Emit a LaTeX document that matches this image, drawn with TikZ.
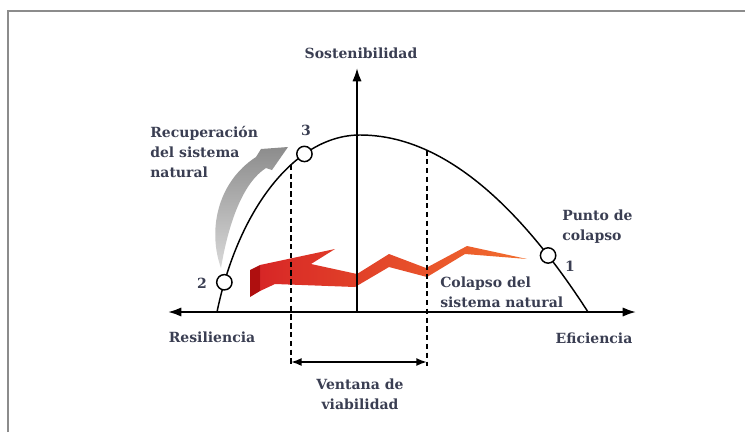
\documentclass[tikz,border=0pt]{standalone}
\usepackage{fontspec}
\setmainfont{DejaVu Serif}
\usetikzlibrary{arrows.meta}
\definecolor{txt}{RGB}{58,62,82}
\definecolor{framec}{RGB}{140,140,140}
\definecolor{redA}{RGB}{212,22,22}
\definecolor{redB}{RGB}{242,100,30}
\definecolor{redF}{RGB}{175,15,15}
\tikzset{atip/.tip={Latex[length=10pt,width=7pt]}, stip/.tip={Latex[length=8pt,width=6pt]}}
\begin{document}
\begin{tikzpicture}[x=0.75pt,y=-0.75pt,
  lbl/.style={text=txt, font=\fontsize{10.5}{15}\selectfont\bfseries, inner sep=0pt},
  axisln/.style={line width=1.5pt},
  curveln/.style={line width=1.1pt},
  pt/.style={circle, draw, line width=1.1pt, fill=white, minimum size=11.5pt, inner sep=0pt},
  dashln/.style={line width=1.5pt, dash pattern=on 4pt off 2.6pt}]
\useasboundingbox (0,0) rectangle (745,432);
\draw[framec, line width=1.9pt] (8,432) -- (8,11) -- (745,11);

% coordinates
\coordinate (O) at (357,312);
\coordinate (hl) at (168,312);
\coordinate (hr) at (636,312);
\coordinate (vt) at (357,68);
\coordinate (x0) at (217,312);
\coordinate (top) at (360,135);
\coordinate (x1) at (588,312);

% red ribbon
\shade[left color=redA, right color=redB, fill opacity=0.93]
  (260,265) -- (335,249) -- (311,264) -- (357,274) -- (389,254) -- (426,268)
  -- (467,246) -- (527,259) -- (465,254) -- (427,277) -- (389,267)
  -- (355,287) -- (275,284) -- (260,291) -- cycle;
\fill[redF] (250,270) -- (260,265) -- (260,291) -- (250,297) -- cycle;

% gray arrow
\shade[top color=gray!90, bottom color=gray!30]
  (221,268) .. controls (208,232) and (216,183) .. (256,157)
  -- (261,149) -- (288,147) -- (272,170) -- (266,168)
  .. controls (244,182) and (229,220) .. cycle;

% axes
\draw[axisln, atip-atip] (hl) -- (hr);
\draw[axisln, -atip] (O) -- (vt);

% curve with points
\draw[curveln] (x0) .. controls (238,210) and (295,135) .. (top)
  coordinate[pos=0.62] (dl) node[pt,pos=0.1] (p2) {} node[pt,pos=0.7] (p3) {}
  .. controls (436,135) and (512,194) .. (x1)
  coordinate[pos=0.294] (dr) node[pt,pos=0.825] (p1) {};

% window
\coordinate (dlb) at (dl |- 0,366);
\coordinate (drb) at (dr |- 0,366);
\draw[dashln] (dl) -- (dlb);
\draw[dashln] (dr) -- (drb);
\coordinate (vl) at (dl |- 0,362);
\coordinate (vr) at (dr |- 0,362);
\draw[line width=1.5pt, stip-stip] (vl) -- (vr);

% labels
\node[lbl] (sost) at (361,53) {Sostenibilidad};
\node[lbl] (resil) at (212,337) {Resiliencia};
\node[lbl] (efic) at (594,338) {Eficiencia};
\node[lbl, align=center] (vent) at (360,394) {Ventana de\\viabilidad};
\node[lbl, align=left, anchor=west] (recup) at (150,152) {Recuperación\\del sistema\\natural};
\node[lbl] (n3) at (306,130) {3};
\node[lbl] (n2) at (202,283) {2};
\node[lbl] (n1) at (570,266) {1};
\node[lbl, align=left, anchor=west] (punto) at (562,227) {Punto de\\colapso};
\node[lbl, align=left, anchor=west] (colap) at (440,292) {Colapso del\\sistema natural};
\end{tikzpicture}
\end{document}
